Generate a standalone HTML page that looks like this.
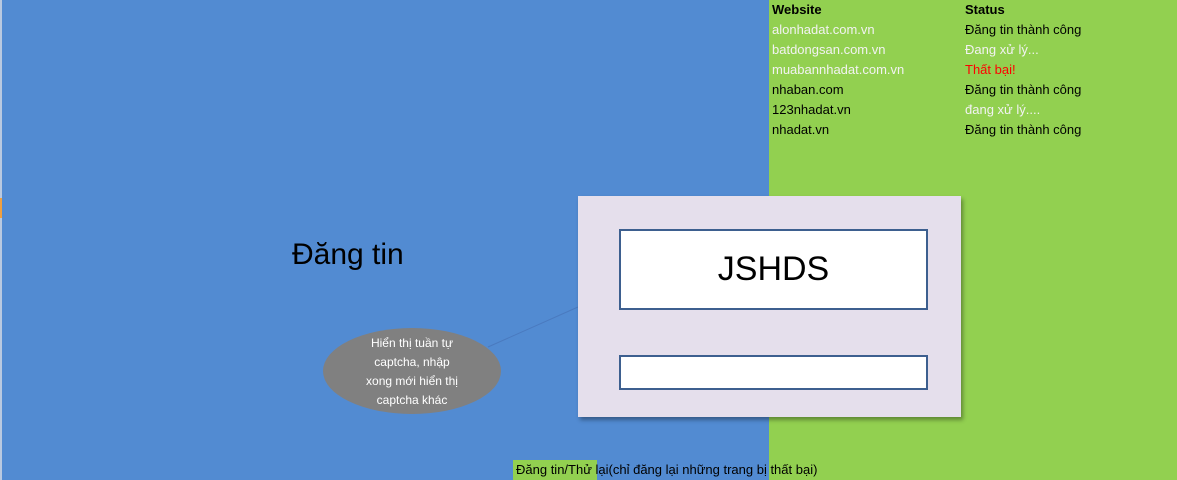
<!DOCTYPE html>
<html><head><meta charset="utf-8"><style>
body{margin:0;width:1177px;height:480px;overflow:hidden;position:relative;background:#528bd2;font-family:"Liberation Sans",sans-serif;}
.abs{position:absolute}
.t{font-size:13px;line-height:20px;white-space:nowrap}
</style></head><body>
<div class="abs" style="left:0;top:0;width:2px;height:480px;background:#b9c9e0"></div>
<div class="abs" style="left:0;top:198px;width:2px;height:20px;background:#f0a040"></div>
<div class="abs" style="left:769px;top:0;width:408px;height:480px;background:#92d050"></div>
<div class="abs t" style="left:772px;top:0;font-weight:bold;color:#000">Website</div>
<div class="abs t" style="left:965px;top:0;font-weight:bold;color:#000">Status</div>
<div class="abs t" style="left:772px;top:20px;color:#f2f2f2">alonhadat.com.vn</div>
<div class="abs t" style="left:772px;top:40px;color:#f2f2f2">batdongsan.com.vn</div>
<div class="abs t" style="left:772px;top:60px;color:#f2f2f2">muabannhadat.com.vn</div>
<div class="abs t" style="left:772px;top:80px;color:#000">nhaban.com</div>
<div class="abs t" style="left:772px;top:100px;color:#000">123nhadat.vn</div>
<div class="abs t" style="left:772px;top:120px;color:#000">nhadat.vn</div>
<div class="abs t" style="left:965px;top:20px;color:#000">Đăng tin thành công</div>
<div class="abs t" style="left:965px;top:40px;color:#f2f2f2">Đang xử lý...</div>
<div class="abs t" style="left:965px;top:60px;color:#ff0000">Thất bại!</div>
<div class="abs t" style="left:965px;top:80px;color:#000">Đăng tin thành công</div>
<div class="abs t" style="left:965px;top:100px;color:#f2f2f2">đang xử lý....</div>
<div class="abs t" style="left:965px;top:120px;color:#000">Đăng tin thành công</div>
<div class="abs" style="left:292px;top:238px;font-size:30px;color:#000;white-space:nowrap">Đăng tin</div>
<svg class="abs" style="left:0;top:0" width="1177" height="480">
<line x1="488" y1="347" x2="578" y2="307" stroke="#4a7abf" stroke-width="1"/>
<ellipse cx="412" cy="371" rx="89" ry="43" fill="#808080"/>
</svg>
<div class="abs" style="left:352px;top:334px;width:120px;text-align:center;font-size:12px;line-height:19px;color:#fff">Hiển thị tuần tự<br>captcha, nhập<br>xong mới hiển thị<br>captcha khác</div>
<div class="abs" style="left:578px;top:196px;width:383px;height:221px;background:#e5dfec;box-shadow:2px 3px 4px rgba(0,0,0,0.35)"></div>
<div class="abs" style="left:619px;top:229px;width:305px;height:77px;background:#fff;border:2.5px solid #3d5f8f;text-align:center;font-size:34px;line-height:77px;color:#000">JSHDS</div>
<div class="abs" style="left:619px;top:355px;width:305px;height:31px;background:#fff;border:2.5px solid #3d5f8f"></div>
<div class="abs" style="left:513px;top:460px;width:84px;height:20px;background:#92d050"></div>
<div class="abs t" style="left:516px;top:460px;color:#000">Đăng tin/Thử lại(chỉ đăng lại những trang bị thất bại)</div>
</body></html>
